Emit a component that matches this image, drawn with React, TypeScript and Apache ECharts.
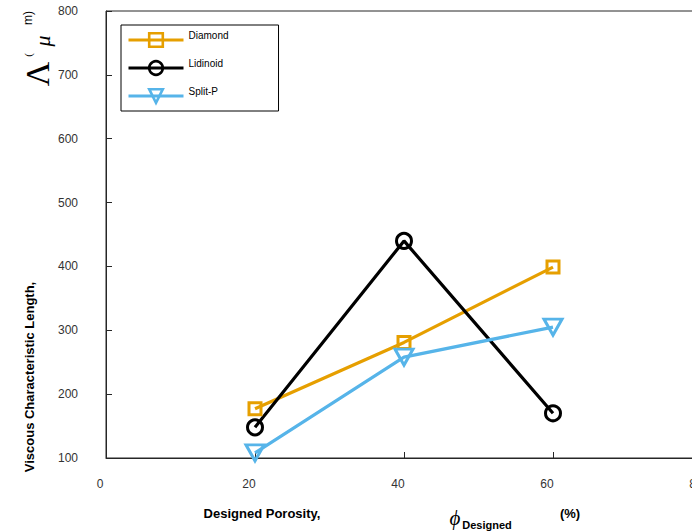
import React, { useEffect, useRef } from "react";
import * as echarts from "echarts";

// Designed porosity (%) of each sample
const porosity = [20, 40, 60];
// Viscous characteristic length values per lattice type
const diamond = [177, 281, 399];
const lidinoid = [148, 440, 170];
const splitP = [108, 258, 305];
const seriesNames = ["Diamond", "Lidinoid", "Split-P"];
const xRange = [0, 80, 20];
const yRange = [100, 800, 100];

const SANS = "'Liberation Sans', Arial, Helvetica, sans-serif";
const SERIF = "'Liberation Serif', 'Times New Roman', serif";
const AXIS = "#262626";

const toPairs = (ys: number[]) => porosity.map((x, i) => [x, ys[i]]);

const triDown = "path://M0,0L20,0L10,17Z";

export default function App() {
  const ref = useRef<HTMLDivElement>(null);
  useEffect(() => {
    if (!ref.current) return;
    const chart = echarts.init(ref.current, undefined, { renderer: "svg" });
    const mk = (
      name: string,
      ys: number[],
      color: string,
      symbol: string,
      size: number | number[]
    ) => ({
      name,
      type: "line",
      data: toPairs(ys),
      symbol,
      symbolSize: size,
      showSymbol: true,
      lineStyle: { color, width: 3.2 },
      itemStyle: { color: "rgba(255,255,255,0)", borderColor: color, borderWidth: 3 },
      emphasis: { disabled: true },
    });
    const rot = Math.PI / 2;
    const txt = (
      text: string,
      x: number,
      y: number,
      font: string,
      rotation = 0
    ) => ({
      type: "text",
      x,
      y,
      rotation,
      style: {
        text,
        font,
        fill: "#000",
        align: "center",
        verticalAlign: "middle",
        textAlign: "center",
        textVerticalAlign: "middle",
      },
    });
    chart.setOption({
      animation: false,
      backgroundColor: "#fff",
      grid: {
        left: 106,
        top: 11,
        right: 8,
        bottom: 73,
        show: true,
        borderColor: AXIS,
        borderWidth: 1,
      },
      xAxis: {
        type: "value",
        min: xRange[0],
        max: xRange[1],
        interval: xRange[2],
        axisLine: { show: true, lineStyle: { color: AXIS, width: 1 } },
        axisTick: { show: true, inside: true, length: 6, lineStyle: { color: AXIS } },
        splitLine: { show: false },
        axisLabel: {
          color: "#333",
          fontSize: 12,
          fontFamily: SANS,
          margin: 20,
          padding: [0, 12, 0, 0],
          showMaxLabel: true,
        },
      },
      yAxis: {
        type: "value",
        min: yRange[0],
        max: yRange[1],
        interval: yRange[2],
        axisLine: { show: true, lineStyle: { color: AXIS, width: 1 } },
        axisTick: { show: true, inside: true, length: 6, lineStyle: { color: AXIS } },
        splitLine: { show: false },
        axisLabel: {
          color: "#333",
          fontSize: 12,
          fontFamily: SANS,
          margin: 28,
          padding: [0, 0, 12, 0],
        },
      },
      legend: {
        orient: "vertical",
        left: 121,
        top: 25,
        padding: [5, 50, 5, 6],
        itemWidth: 55,
        itemHeight: 17,
        itemGap: 8,
        backgroundColor: "#fff",
        borderColor: "#000",
        borderWidth: 1,
        borderRadius: 0,
        lineStyle: { width: 3 },
        itemStyle: { borderWidth: 2.6 },
        formatter: "{t|{name}}",
        textStyle: {
          fontSize: 10,
          fontFamily: SANS,
          color: "#000",
          rich: {
            t: {
              fontSize: 10,
              fontFamily: SANS,
              color: "#000",
              lineHeight: 12,
              padding: [0, 0, 10, 0],
            },
          },
        },
        data: seriesNames,
      },
      series: [
        mk(seriesNames[0], diamond, "#E69F00", "rect", 12),
        mk(seriesNames[1], lidinoid, "#000000", "circle", 15),
        mk(seriesNames[2], splitP, "#56B4E9", triDown, [18, 16]),
      ],
      graphic: [
        txt("Viscous Characteristic Length,", 29, 377, `bold 13px ${SANS}`, rot),
        txt("\u039B", 37, 74, `34px ${SERIF}`, rot),
        txt("(", 28, 55, `11px ${SERIF}`, rot),
        txt("\u03BC", 42, 41, `italic 22px ${SERIF}`, rot),
        txt("m)", 28, 18, `12px ${SANS}`, rot),
        txt("Designed Porosity,", 262, 513, `bold 13px ${SANS}`),
        txt("\u03D5", 455, 518, `italic 21px ${SERIF}`),
        txt("Designed", 487, 525, `bold 11px ${SANS}`),
        txt("(%)", 570, 513, `bold 13px ${SANS}`),
      ],
    });
    return () => chart.dispose();
  }, []);
  return (
    <div
      style={{
        position: "absolute",
        left: 0,
        top: 0,
        width: 692,
        height: 531,
        overflow: "hidden",
      }}
    >
      <div ref={ref} style={{ width: 710, height: 531 }} />
    </div>
  );
}
